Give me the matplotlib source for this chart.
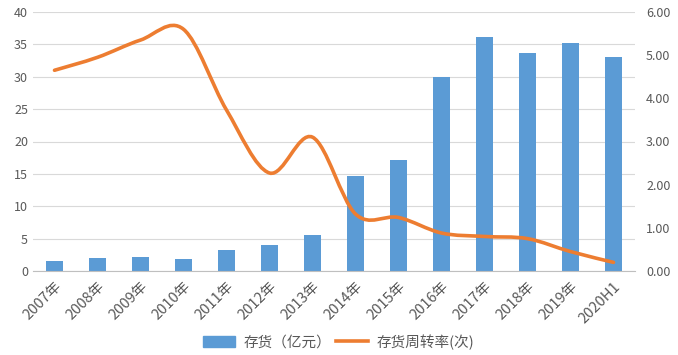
import matplotlib
matplotlib.use("Agg")
import matplotlib.pyplot as plt
from matplotlib.path import Path
from matplotlib.patches import PathPatch
from matplotlib.lines import Line2D
import numpy as np

plt.rcParams['font.family'] = ['Noto Sans CJK SC', 'DejaVu Sans']

years = ['2007年', '2008年', '2009年', '2010年', '2011年', '2012年', '2013年',
         '2014年', '2015年', '2016年', '2017年', '2018年', '2019年', '2020H1']
inventory = [1.5, 2.0, 2.1, 1.9, 3.2, 4.0, 5.5, 14.6, 17.2, 30.0, 36.1, 33.6, 35.2, 33.0]
turnover = [4.65, 4.95, 5.35, 5.6, 3.73, 2.27, 3.1, 1.32, 1.24, 0.88, 0.8, 0.75, 0.45, 0.2]

BLUE = '#5B9BD5'
ORANGE = '#ED7D31'
GREY = '#595959'


def smoothPath(xs, ys):
    # Excel-style smoothed line as cubic bezier segments
    xs = np.asarray(xs, float)
    ys = np.asarray(ys, float)
    n = len(xs)
    verts = [(xs[0], ys[0])]
    codes = [Path.MOVETO]
    for i in range(n - 1):
        p0 = (xs[max(i - 1, 0)], ys[max(i - 1, 0)])
        p1 = (xs[i], ys[i])
        p2 = (xs[i + 1], ys[i + 1])
        p3 = (xs[min(i + 2, n - 1)], ys[min(i + 2, n - 1)])
        c1 = (p1[0] + (p2[0] - p0[0]) / 6, p1[1] + (p2[1] - p0[1]) / 6)
        c2 = (p2[0] - (p3[0] - p1[0]) / 6, p2[1] - (p3[1] - p1[1]) / 6)
        verts += [c1, c2, p2]
        codes += [Path.CURVE4] * 3
    return Path(verts, codes)


fig = plt.figure(figsize=(6.78, 3.55), dpi=100)
ax = fig.add_axes([33 / 678, 1 - 271 / 355, (635 - 33) / 678, (271 - 12) / 355])
x = np.arange(len(years))

ax.bar(x, inventory, width=0.4, color=BLUE, zorder=2)
ax.set_ylim(0, 40)
ax.set_yticks(range(0, 41, 5))
ax.set_xlim(-0.5, len(years) - 0.5)
ax.set_xticks(x)
ax.set_xticklabels(years, rotation=45, ha='right', rotation_mode='anchor', fontsize=10.5)
ax.grid(axis='y', color='#D9D9D9', linewidth=0.8, zorder=0)
ax.set_axisbelow(True)
for s in ['top', 'left', 'right']:
    ax.spines[s].set_visible(False)
ax.spines['bottom'].set_color('#BFBFBF')
ax.tick_params(axis='both', length=0, colors=GREY, labelsize=9)
ax.tick_params(axis='x', pad=6, labelsize=10.5)

ax2 = ax.twinx()
ax2.set_ylim(0, 6)
ax2.set_yticks(np.arange(0, 6.01, 1))
ax2.set_yticklabels([f'{v:.2f}' for v in np.arange(0, 6.01, 1)])
for s in ax2.spines.values():
    s.set_visible(False)
ax2.tick_params(axis='y', length=0, colors=GREY, labelsize=9, pad=8)
ax2.add_patch(PathPatch(smoothPath(x, turnover), facecolor='none', edgecolor=ORANGE,
                        linewidth=2.6, capstyle='round', zorder=3))

handles = [plt.Rectangle((0, 0), 1, 1, color=BLUE),
           Line2D([0], [0], color=ORANGE, linewidth=2.6)]
fig.legend(handles, ['存货（亿元）', '存货周转率(次)'], loc='center',
           bbox_to_anchor=(0.5, 1 - 342 / 355), ncol=2, frameon=False,
           fontsize=10.5, labelcolor=GREY, handlelength=2.2, handleheight=0.8,
           columnspacing=0.3, handletextpad=0.6)

fig.savefig('out.png', dpi=100, facecolor='white')
